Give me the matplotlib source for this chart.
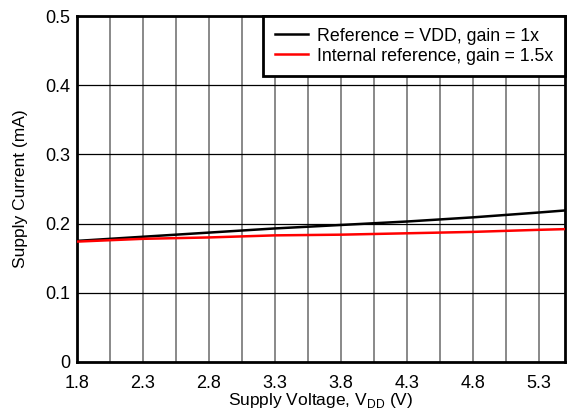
import numpy as np
import matplotlib.pyplot as plt

plt.rcParams['font.family'] = ['Liberation Sans', 'DejaVu Sans']
plt.rcParams['mathtext.fontset'] = 'custom'
plt.rcParams['mathtext.rm'] = 'Liberation Sans'

vdd = [1.8, 2.3, 2.8, 3.3, 3.8, 4.3, 4.8, 5.3, 5.5]
ref_vdd = [0.175, 0.181, 0.187, 0.193, 0.198, 0.203, 0.209, 0.216, 0.219]
ref_int = [0.174, 0.178, 0.180, 0.183, 0.184, 0.186, 0.188, 0.191, 0.192]
labels = ['Reference = VDD, gain = 1x', 'Internal reference, gain = 1.5x']
xticks = [1.8, 2.3, 2.8, 3.3, 3.8, 4.3, 4.8, 5.3]
yticks = [0, 0.1, 0.2, 0.3, 0.4, 0.5]

fig = plt.figure(figsize=(5.73, 4.13), dpi=100)
ax = fig.add_axes([77/573, 1-362/413, (565-77)/573, (362-16)/413])

# grid: gray verticals every 0.25 V, black horizontals every 0.1 mA
for x in np.arange(2.05, 5.5, 0.25):
    ax.axvline(x, color='#808080', lw=1.3, zorder=1)
for y in yticks[1:-1]:
    ax.axhline(y, color='black', lw=0.9, zorder=1)

ax.plot(vdd, ref_vdd, color='black', lw=1.8, label=labels[0], zorder=3)
ax.plot(vdd, ref_int, color='#ff0000', lw=1.8, label=labels[1], zorder=3)

ax.set_xlim(1.8, 5.5)
ax.set_ylim(0, 0.5)
ax.set_xticks(xticks)
ax.set_xticklabels([f'{v:.1f}' for v in xticks])
ax.set_yticks(yticks)
ax.set_yticklabels(['0', '0.1', '0.2', '0.3', '0.4', '0.5'])
ax.tick_params(length=0, labelsize=13)
ax.tick_params(axis='y', pad=5)
ax.tick_params(axis='x', pad=9)

for s in ax.spines.values():
    s.set_linewidth(2)

ax.set_xlabel('Supply Voltage, V$_{\\mathrm{DD}}$ (V)', fontsize=12.5, labelpad=0)
ax.set_ylabel('Supply Current (mA)', fontsize=12.5, labelpad=12)

leg = ax.legend(loc='upper right', fontsize=12.8, frameon=True, fancybox=False,
                borderaxespad=0, handlelength=1.9, handletextpad=0.5,
                borderpad=0.65, labelspacing=0.17)
leg.get_frame().set_edgecolor('black')
leg.get_frame().set_linewidth(2)
leg.get_frame().set_alpha(1)
leg.set_zorder(5)

fig.savefig('out.png', dpi=100)
